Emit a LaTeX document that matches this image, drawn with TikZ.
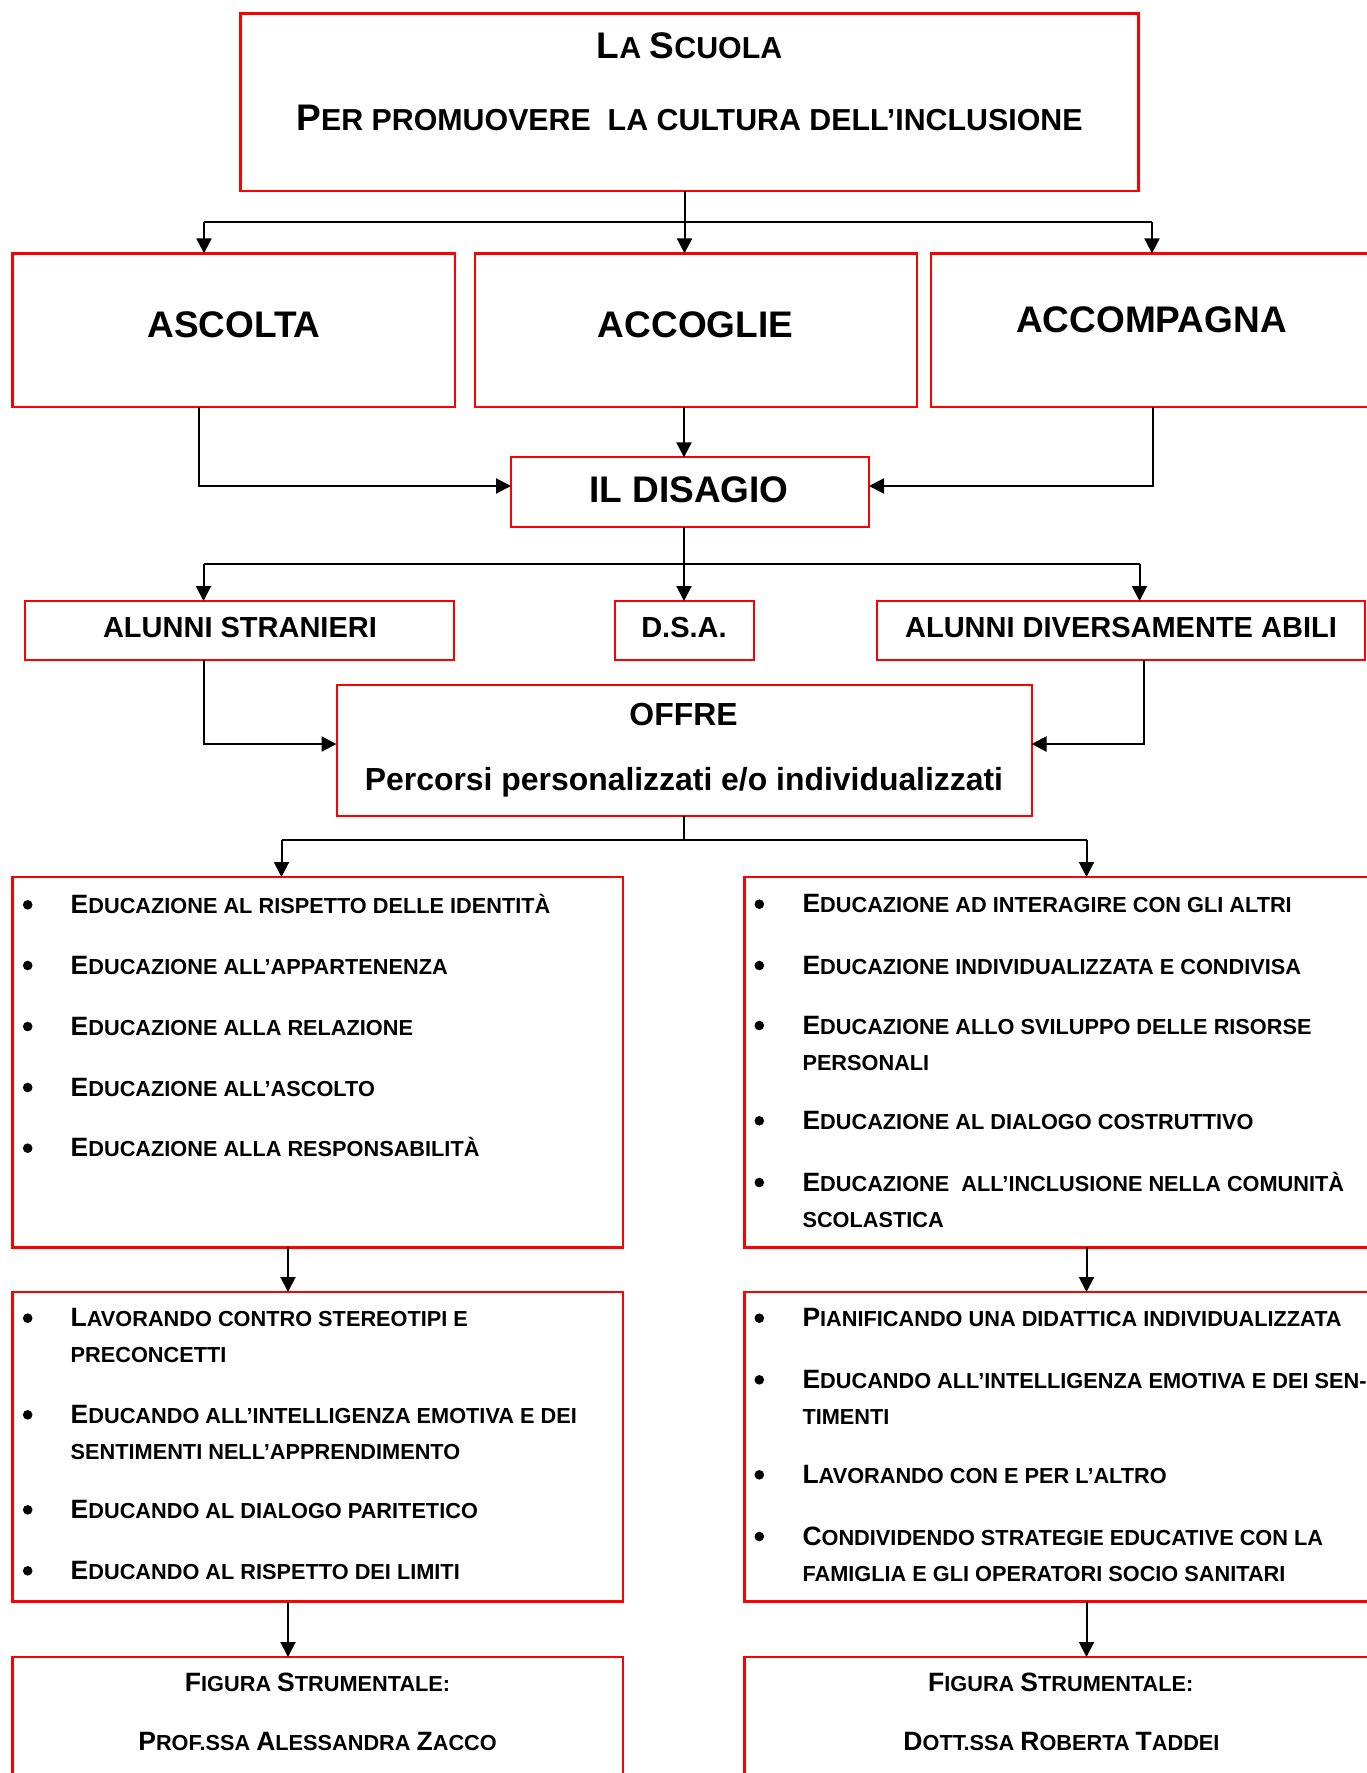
\documentclass[tikz,border=0pt]{standalone}
\usepackage{fontspec}
\setmainfont{Liberation Sans}
\usetikzlibrary{arrows.meta}
\definecolor{boxred}{RGB}{255,0,0}
% word-processor style small capitals: capitals set at 82% of the current size
\makeatletter
\newcommand\smc[1]{{\fontsize{\fpeval{0.82*\f@size}}{\f@baselineskip}\selectfont #1}}
\makeatother

\begin{document}
\begin{tikzpicture}[x=1pt,y=-1pt,
  redbox/.style={draw=boxred, line width=2.5pt, inner sep=0pt, outer sep=0pt},
  thinbox/.style={redbox, line width=2pt},
  conn/.style={line width=2pt, black},
  arr/.style={conn, -{Triangle[length=15pt,width=15pt]}},
  lbl/.style={anchor=base, inner sep=0pt, font=\bfseries},
  titlefont/.style={lbl, font=\fontsize{37}{45}\selectfont\bfseries},
  bigfont/.style={lbl, font=\fontsize{37}{44}\selectfont\bfseries},
  midfont/.style={lbl, font=\fontsize{29}{35}\selectfont\bfseries},
  offfont/.style={lbl, font=\fontsize{31.9}{38}\selectfont\bfseries},
  itemfont/.style={lbl, font=\fontsize{26.5}{32}\selectfont\bfseries},
  entry/.style={itemfont, anchor=base west},
]
\useasboundingbox (0,0) rectangle (1367,1773);
\clip (0,0) rectangle (1367,1773);

% ---------- boxes ----------
\node[redbox, minimum width=898pt, minimum height=177.5pt] (top) at (689.5,102.25) {};
\node[redbox, minimum width=442.7pt, minimum height=153.7pt] (asc) at (233.6,330.2) {};
\node[redbox, minimum width=442pt, minimum height=153.7pt] (acc) at (696,330.2) {};
\node[redbox, minimum width=442pt, minimum height=153.7pt] (acm) at (1152,330.2) {};
\node[thinbox, minimum width=358pt, minimum height=69.7pt] (dis) at (690,492.2) {};
\node[thinbox, minimum width=429.8pt, minimum height=59pt] (str) at (239.4,630.5) {};
\node[thinbox, minimum width=139.4pt, minimum height=59pt] (dsa) at (684.3,630.5) {};
\node[thinbox, minimum width=487.5pt, minimum height=59pt] (dva) at (1120.75,630.5) {};
\node[thinbox, minimum width=695pt, minimum height=130.5pt] (off) at (684,750.25) {};
\node[redbox, minimum width=610.5pt, minimum height=370.3pt] (L1) at (317.75,1062.15) {};
\node[redbox, minimum width=632.4pt, minimum height=370.3pt] (R1) at (1060.8,1062.15) {};
\node[redbox, minimum width=610.5pt, minimum height=309.7pt] (L2) at (317.75,1446.85) {};
\node[redbox, minimum width=632.4pt, minimum height=309.7pt] (R2) at (1060.8,1446.85) {};
\node[redbox, minimum width=610.5pt, minimum height=133pt] (L3) at (317.75,1723.5) {};
\node[redbox, minimum width=632.4pt, minimum height=133pt] (R3) at (1060.8,1723.5) {};

% ---------- headings ----------
\node[titlefont] (t1) at (689.5,58.3) {L\smc{A }S\smc{CUOLA}};
\node[titlefont] (t2) at (689.5,130.7) {P\smc{ER PROMUOVERE\ \ LA CULTURA DELL’INCLUSIONE}};
\node[bigfont] (tasc) at (234,337.3) {ASCOLTA};
\node[bigfont] (tacc) at (695.5,337.3) {ACCOGLIE};
\node[bigfont] (tacm) at (1151.5,332.7) {ACCOMPAGNA};
\node[bigfont] (tdis) at (689,502.3) {IL DISAGIO};
\node[midfont] (tstr) at (240,637.3) {ALUNNI STRANIERI};
\node[midfont] (tdsa) at (684,637.3) {D.S.A.};
\node[midfont] (tdva) at (1121,637.3) {ALUNNI DIVERSAMENTE ABILI};
\node[offfont] (toff1) at (683.5,725) {OFFRE};
\node[offfont] (toff2) at (684,790) {Percorsi personalizzati e/o individualizzati};

% ---------- left column lists ----------
\foreach \y in {913.3,974,1035,1096,1156.7,1326.7,1423.3,1518.3,1579.3}
  \fill (27.7,\y-8.5) circle (4.8pt);
\node[entry] (la1) at (70.5,913.3) {E\smc{DUCAZIONE AL RISPETTO DELLE IDENTITÀ}};
\node[entry] (la2) at (70.5,974) {E\smc{DUCAZIONE ALL’APPARTENENZA}};
\node[entry] (la3) at (70.5,1035) {E\smc{DUCAZIONE ALLA RELAZIONE}};
\node[entry] (la4) at (70.5,1096) {E\smc{DUCAZIONE ALL’ASCOLTO}};
\node[entry] (la5) at (70.5,1156.7) {E\smc{DUCAZIONE ALLA RESPONSABILITÀ}};

\node[entry] (lb1) at (70.5,1326.7) {L\smc{AVORANDO CONTRO STEREOTIPI E}};
\node[entry] (lb1c) at (70.5,1362.7) {\smc{PRECONCETTI}};
\node[entry] (lb2) at (70.5,1423.3) {E\smc{DUCANDO ALL’INTELLIGENZA EMOTIVA E DEI}};
\node[entry] (lb2c) at (70.5,1459) {\smc{SENTIMENTI NELL’APPRENDIMENTO}};
\node[entry] (lb3) at (70.5,1518.3) {E\smc{DUCANDO AL DIALOGO PARITETICO}};
\node[entry] (lb4) at (70.5,1579.3) {E\smc{DUCANDO AL RISPETTO DEI LIMITI}};

% ---------- right column lists ----------
\foreach \y in {912.7,974,1034,1129.3,1191,1326.7,1388.3,1483.3,1545}
  \fill (759.3,\y-8.5) circle (4.8pt);
\node[entry] (ra1) at (802.3,912.7) {E\smc{DUCAZIONE AD INTERAGIRE CON GLI ALTRI}};
\node[entry] (ra2) at (802.3,974) {E\smc{DUCAZIONE INDIVIDUALIZZATA E CONDIVISA}};
\node[entry] (ra3) at (802.3,1034) {E\smc{DUCAZIONE ALLO SVILUPPO DELLE RISORSE}};
\node[entry] (ra3c) at (802.3,1070.7) {\smc{PERSONALI}};
\node[entry] (ra4) at (802.3,1129.3) {E\smc{DUCAZIONE AL DIALOGO COSTRUTTIVO}};
\node[entry] (ra5) at (802.3,1191) {E\smc{DUCAZIONE\ \ ALL’INCLUSIONE NELLA COMUNITÀ}};
\node[entry] (ra5c) at (802.3,1227.7) {\smc{SCOLASTICA}};

\node[entry] (rb1) at (802.3,1326.7) {P\smc{IANIFICANDO UNA DIDATTICA INDIVIDUALIZZATA}};
\node[entry] (rb2) at (802.3,1388.3) {E\smc{DUCANDO ALL’INTELLIGENZA EMOTIVA E DEI SEN-}};
\node[entry] (rb2c) at (802.3,1424) {\smc{TIMENTI}};
\node[entry] (rb3) at (802.3,1483.3) {L\smc{AVORANDO CON E PER L’ALTRO}};
\node[entry] (rb4) at (802.3,1545) {C\smc{ONDIVIDENDO STRATEGIE EDUCATIVE CON LA}};
\node[entry] (rb4c) at (802.3,1581) {\smc{FAMIGLIA E GLI OPERATORI SOCIO SANITARI}};

% ---------- referents ----------
\node[itemfont] (lf1) at (317.6,1691.7) {F\smc{IGURA }S\smc{TRUMENTALE:}};
\node[itemfont] (lf2) at (317.6,1750) {P\smc{ROF.SSA }A\smc{LESSANDRA }Z\smc{ACCO}};
\node[itemfont] (rf1) at (1060.8,1691.7) {F\smc{IGURA }S\smc{TRUMENTALE:}};
\node[itemfont] (rf2) at (1061.5,1750) {D\smc{OTT.SSA }R\smc{OBERTA }T\smc{ADDEI}};

% ---------- connectors ----------
% title to the three actions
\coordinate (b0) at (684.5,222.3);
\coordinate (b1) at (204,222.3);
\coordinate (b3) at (1152,222.3);
\draw[conn] (top.south -| b0) -- (b0);
\draw[conn] (b1) -- (b3);
\draw[arr] (b1) -- (b1 |- asc.north);
\draw[arr] (b0) -- (b0 |- acc.north);
\draw[arr] (b3) -- (b3 |- acm.north);

% actions to the hardship box
\coordinate (c1) at (198.8,486);
\coordinate (c2) at (684,430);
\coordinate (c3) at (1152.6,486);
\draw[arr] (c1 |- asc.south) -- (c1) -- (dis.west |- c1);
\draw[arr] (acc.south -| c2) -- (dis.north -| c2);
\draw[arr] (c3 |- acm.south) -- (c3) -- (dis.east |- c3);

% hardship box to the three pupil groups
\coordinate (d0) at (684,564);
\coordinate (d1) at (203.5,564);
\coordinate (d3) at (1139.5,564);
\draw[conn] (dis.south -| d0) -- (d0);
\draw[conn] (d1) -- (d3);
\draw[arr] (d1) -- (d1 |- str.north);
\draw[arr] (d0) -- (d0 |- dsa.north);
\draw[arr] (d3) -- (d3 |- dva.north);

% pupil groups to the offer
\coordinate (e1) at (204,744);
\coordinate (e2) at (1143.5,744);
\draw[arr] (e1 |- str.south) -- (e1) -- (off.west |- e1);
\draw[arr] (e2 |- dva.south) -- (e2) -- (off.east |- e2);

% offer to the two columns
\coordinate (f0) at (684,840);
\coordinate (f1) at (281.5,840);
\coordinate (f2) at (1086.5,840);
\draw[conn] (off.south -| f0) -- (f0);
\draw[conn] (f1) -- (f2);
\draw[arr] (f1) -- (f1 |- L1.north);
\draw[arr] (f2) -- (f2 |- R1.north);

% down each column
\coordinate (g1) at (288,0);
\coordinate (g2) at (1086.5,0);
\draw[arr] (L1.south -| g1) -- (L2.north -| g1);
\draw[arr] (R1.south -| g2) -- (R2.north -| g2);
\draw[arr] (L2.south -| g1) -- (L3.north -| g1);
\draw[arr] (R2.south -| g2) -- (R3.north -| g2);
\end{tikzpicture}
\end{document}
